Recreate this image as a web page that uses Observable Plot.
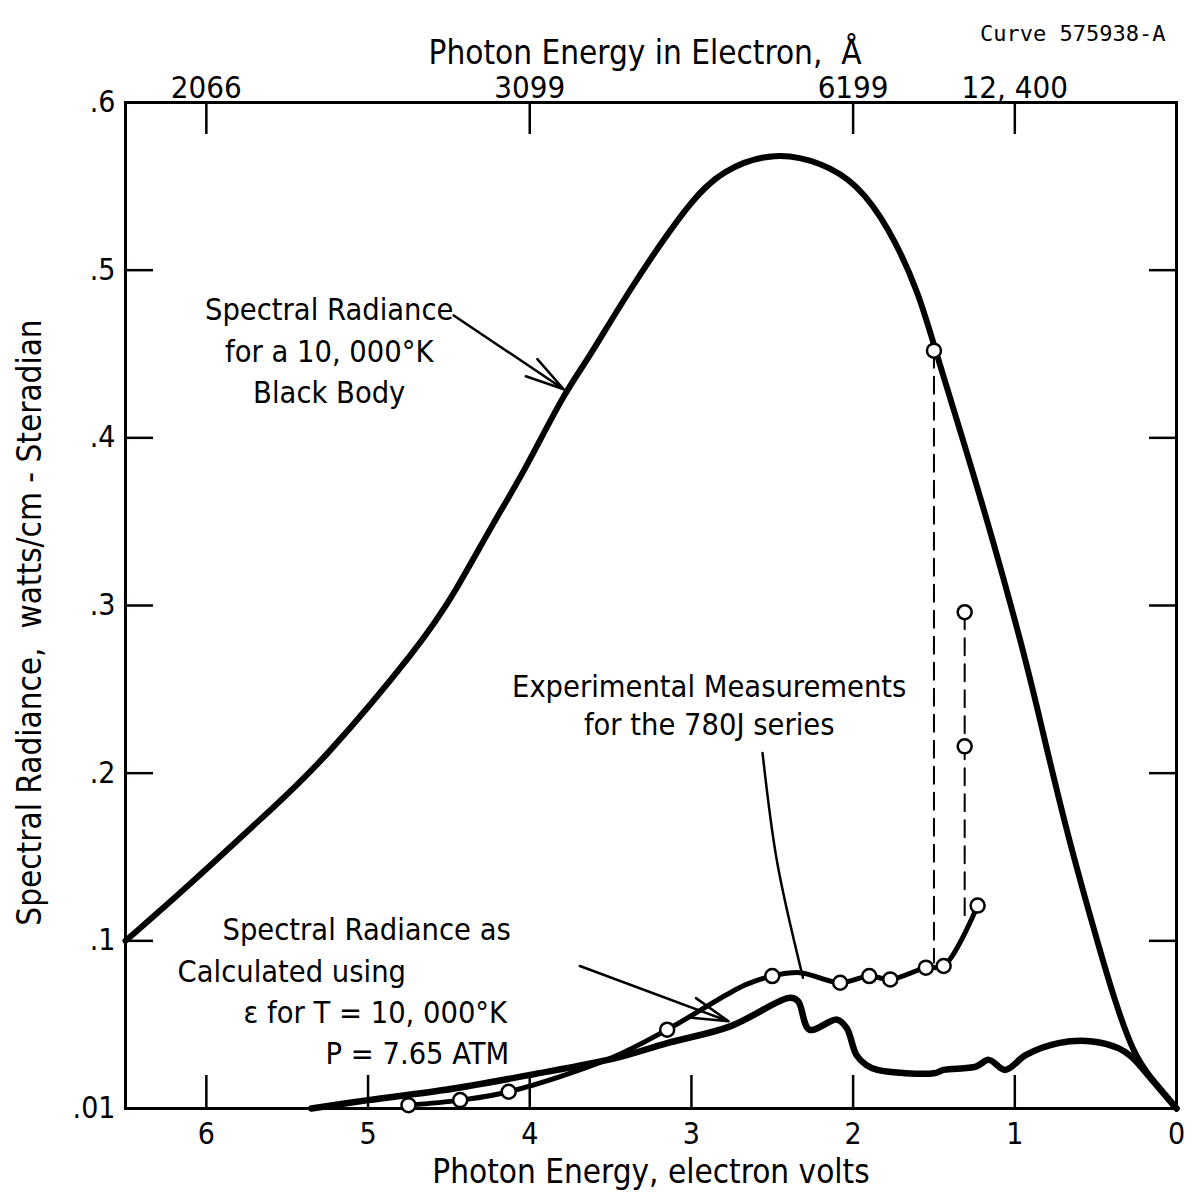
<!DOCTYPE html>
<html><head><meta charset="utf-8">
<script src="https://cdn.jsdelivr.net/npm/d3@7"></script>
<script src="https://cdn.jsdelivr.net/npm/@observablehq/plot@0.6"></script>
<style>
html,body{margin:0;padding:0;background:#fff;}
#chart{width:1193px;height:1201px;}
</style></head><body><div id="chart"></div>
<script>
// ---- axis ticks & labels ----
const xTickValues = [6, 5, 4, 3, 2, 1, 0];
const xTickLabels = ["6", "5", "4", "3", "2", "1", "0"];
const topTickValues = [6, 4, 2, 1];
const topTickLabels = ["2066", "3099", "6199", "12, 400"];
const yTickValues = [0, 0.1, 0.2, 0.3, 0.4, 0.5, 0.6];
const yTickLabels = [".01", ".1", ".2", ".3", ".4", ".5", ".6"];

// ---- black body curve (eV, radiance) ----
const bbEnergy =   [6.5, 6.13, 5.57, 5.30, 4.67, 4.46, 4.21, 4.05, 3.78, 3.65, 3.40, 3.02, 2.81, 2.48, 2.19, 1.98, 1.78, 1.59, 1.486, 1.21, 0.94, 0.84, 0.67, 0.47, 0.39, 0.27, 0.15, 0.0];
const bbRadiance = [0.100, 0.131, 0.181, 0.205, 0.277, 0.308, 0.352, 0.377, 0.428, 0.445, 0.486, 0.540, 0.560, 0.571, 0.564, 0.552, 0.526, 0.486, 0.450, 0.365, 0.271, 0.230, 0.161, 0.093, 0.067, 0.033, 0.017, 0.0];

// ---- calculated curve ----
const calcEnergy =   [5.35, 5.0, 4.53, 4.0, 3.47, 3.15, 2.76, 2.39, 2.34, 2.27, 2.10, 2.04, 1.98, 1.92, 1.85, 1.50, 1.44, 1.24, 1.16, 1.06, 0.93, 0.73, 0.52, 0.36, 0.28, 0.15, 0.0];
const calcRadiance = [0.0, 0.005, 0.011, 0.020, 0.030, 0.039, 0.049, 0.066, 0.064, 0.047, 0.053, 0.048, 0.032, 0.026, 0.023, 0.021, 0.023, 0.025, 0.029, 0.023, 0.032, 0.039, 0.040, 0.036, 0.031, 0.017, 0.0];

// ---- experimental measurements (780J series) ----
const expLineEnergy =   [4.75, 4.43, 4.13, 3.50, 3.15, 2.78, 2.66, 2.50, 2.33, 2.08, 1.90, 1.77, 1.55, 1.44, 1.23];
const expLineRadiance = [0.002, 0.005, 0.010, 0.030, 0.047, 0.068, 0.074, 0.079, 0.081, 0.075, 0.079, 0.077, 0.084, 0.085, 0.121];
const expPointEnergy =   [4.75, 4.43, 4.13, 3.15, 2.50, 2.08, 1.90, 1.77, 1.55, 1.44, 1.23, 1.50, 1.31, 1.31];
const expPointRadiance = [0.002, 0.005, 0.010, 0.047, 0.079, 0.075, 0.079, 0.077, 0.084, 0.085, 0.121, 0.452, 0.296, 0.216];

// ---- dashed connectors ----
const dashGroup =    ["a", "a", "b", "b"];
const dashEnergy =   [1.50, 1.50, 1.31, 1.31];
const dashRadiance = [0.452, 0.087, 0.296, 0.112];

// ---- tables built from the arrays ----
const zipXY = (xs, ys) => xs.map((x, i) => ({x, y: ys[i]}));
const bb = zipXY(bbEnergy, bbRadiance);
const calc = zipXY(calcEnergy, calcRadiance);
const expLine = zipXY(expLineEnergy, expLineRadiance);
const expPts = zipXY(expPointEnergy, expPointRadiance);
const dashes = dashEnergy.map((x, i) => ({x, y: dashRadiance[i], g: dashGroup[i]}));

const FONT = '"DejaVu Sans Condensed", "Liberation Sans Narrow", sans-serif';
const W = 1193, H = 1201, ML = 125, MR = 17, MT = 102, MB = 93;
const IW = W - ML - MR, IH = H - MT - MB;
const AF = 30.5; // annotation font size

const chart = Plot.plot({
  width: W, height: H,
  marginLeft: ML, marginRight: MR, marginTop: MT, marginBottom: MB,
  style: {fontFamily: FONT, background: "#fff", color: "#000"},
  x: {domain: [6.5, 0]},
  y: {domain: [0, 0.6]},
  marks: [
    Plot.frame({stroke: "#000", strokeWidth: 3}),
    // inward tick marks
    Plot.tickX(xTickValues.filter(d => d > 0), {x: d => d, insetTop: IH - 33, strokeWidth: 2.5}),
    Plot.tickX(topTickValues, {x: d => d, insetBottom: IH - 32, strokeWidth: 2.5}),
    Plot.tickY(yTickValues.filter(d => d > 0 && d < 0.6), {y: d => d, insetRight: IW - 28, strokeWidth: 2.5}),
    Plot.tickY(yTickValues.filter(d => d > 0 && d < 0.6), {y: d => d, insetLeft: IW - 27, strokeWidth: 2.5}),
    // tick labels
    Plot.axisX({anchor: "bottom", ticks: xTickValues, tickFormat: d => xTickLabels[xTickValues.indexOf(d)], tickSize: 0, tickPadding: 14, fontSize: 30, label: null}),
    Plot.axisX({anchor: "top", ticks: topTickValues, tickFormat: d => topTickLabels[topTickValues.indexOf(d)], tickSize: 0, tickPadding: 5, fontSize: 31, label: null}),
    Plot.axisY({anchor: "left", ticks: yTickValues, tickFormat: d => yTickLabels[yTickValues.indexOf(d)], tickSize: 0, tickPadding: 10, fontSize: 30, label: null}),
    // titles
    Plot.text(["Photon Energy, electron volts"], {frameAnchor: "bottom", dy: 74, fontSize: 33}),
    Plot.text(["Photon Energy in Electron,  Å"], {frameAnchor: "top", dy: -62, dx: -6, fontSize: 33}),
    Plot.text(["Spectral Radiance,  watts/cm - Steradian"], {frameAnchor: "left", textAnchor: "middle", rotate: -90, dx: -95, dy: 17, fontSize: 33}),
    Plot.text(["Curve 575938-A"], {frameAnchor: "top-right", textAnchor: "end", dx: -11, dy: -77, fontSize: 22, fontFamily: '"DejaVu Sans Mono", monospace'}),
    // curves
    Plot.line(bb, {x: "x", y: "y", curve: "basis", strokeWidth: 6}),
    Plot.line(calc, {x: "x", y: "y", curve: "catmull-rom", strokeWidth: 6.5, strokeLinejoin: "round"}),
    Plot.line(expLine, {x: "x", y: "y", curve: "catmull-rom", strokeWidth: 5}),
    Plot.line(dashes, {x: "x", y: "y", z: "g", strokeWidth: 2, strokeDasharray: "17,9"}),
    Plot.dot(expPts, {x: "x", y: "y", r: 7, fill: "#fff", stroke: "#000", strokeWidth: 2.5}),
    // annotations
    Plot.text(["Spectral Radiance\nfor a 10, 000°K\nBlack Body"], {x: 5.24, y: 0.4533, lineHeight: 1.35, fontSize: AF}),
    Plot.arrow([{x1: 4.47, y1: 0.473, x2: 3.79, y2: 0.429}], {x1: "x1", y1: "y1", x2: "x2", y2: "y2", strokeWidth: 2.5, headLength: 24, headAngle: 30}),
    Plot.text(["Experimental Measurements\nfor the 780J series"], {x: 2.89, y: 0.2415, lineHeight: 1.25, fontSize: AF}),
    Plot.line([{x: 2.56, y: 0.212}, {x: 2.47, y: 0.147}, {x: 2.31, y: 0.078}], {x: "x", y: "y", curve: "catmull-rom", strokeWidth: 2.5}),
    Plot.text([
      {t: "Spectral Radiance as", x: 5.90, y: 0.1062},
      {t: "Calculated using", x: 6.178, y: 0.0811},
      {t: "ε for T = 10, 000°K", x: 5.77, y: 0.0567},
      {t: "P = 7.65 ATM", x: 5.263, y: 0.0322}
    ], {x: "x", y: "y", text: "t", textAnchor: "start", fontSize: AF}),
    Plot.arrow([{x1: 3.69, y1: 0.085, x2: 2.77, y2: 0.052}], {x1: "x1", y1: "y1", x2: "x2", y2: "y2", strokeWidth: 2.5, headLength: 24, headAngle: 30})
  ]
});
document.getElementById("chart").appendChild(chart);
</script></body></html>
